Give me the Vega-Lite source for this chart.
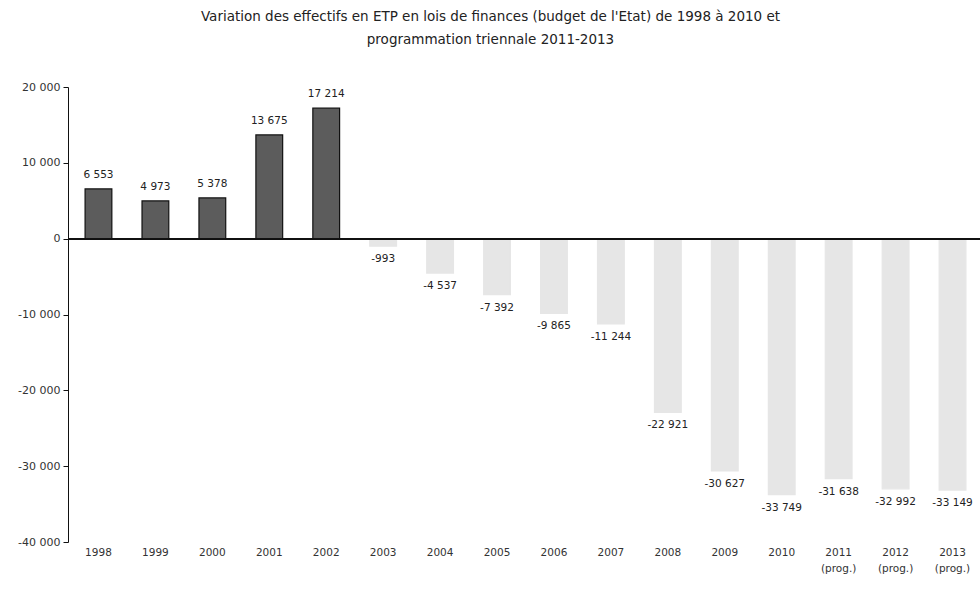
{
  "$schema": "https://vega.github.io/schema/vega-lite/v6.json",
  "autosize": "none",
  "width": 915,
  "height": 455,
  "padding": {"left": 68, "top": 87, "right": 0, "bottom": 60},
  "background": "white",
  "title": {
    "text": ["Variation des effectifs en ETP en lois de finances (budget de l'Etat) de 1998 à 2010 et", "programmation triennale 2011-2013"],
    "font": "DejaVu Sans",
    "fontSize": 13.5,
    "fontWeight": "normal",
    "color": "#222",
    "lineHeight": 23,
    "offset": 35,
    "dx": -35,
    "anchor": "middle"
  },
  "config": {
    "view": {"stroke": null},
    "axis": {"labelFont": "DejaVu Sans", "labelFontSize": 11, "labelColor": "#333", "grid": false}
  },
  "data": {
    "values": [
      {"year": "1998", "value": 6553, "group": "real"},
      {"year": "1999", "value": 4973, "group": "real"},
      {"year": "2000", "value": 5378, "group": "real"},
      {"year": "2001", "value": 13675, "group": "real"},
      {"year": "2002", "value": 17214, "group": "real"},
      {"year": "2003", "value": -993, "group": "neg"},
      {"year": "2004", "value": -4537, "group": "neg"},
      {"year": "2005", "value": -7392, "group": "neg"},
      {"year": "2006", "value": -9865, "group": "neg"},
      {"year": "2007", "value": -11244, "group": "neg"},
      {"year": "2008", "value": -22921, "group": "neg"},
      {"year": "2009", "value": -30627, "group": "neg"},
      {"year": "2010", "value": -33749, "group": "neg"},
      {"year": "2011", "value": -31638, "group": "neg"},
      {"year": "2012", "value": -32992, "group": "neg"},
      {"year": "2013", "value": -33149, "group": "neg"}
    ]
  },
  "transform": [
    {"calculate": "(datum.value < 0 ? '-' : '') + replace(format(abs(datum.value), ',d'), ',', ' ')", "as": "label"}
  ],
  "encoding": {
    "x": {
      "field": "year", "type": "nominal", "sort": null,
      "scale": {"paddingInner": 0.53, "paddingOuter": 0.3},
      "axis": {
        "title": null, "orient": "bottom", "domain": false, "ticks": false, "labelAngle": 0,
        "labelPadding": 5, "labelLineHeight": 16, "labelFontSize": 10.5,
        "labelExpr": "datum.value >= '2011' ? [datum.value, '(prog.)'] : datum.value"
      }
    }
  },
  "layer": [
    {
      "mark": {"type": "bar", "strokeWidth": 1.2},
      "encoding": {
        "y": {
          "field": "value", "type": "quantitative",
          "scale": {"domain": [-40000, 20000], "nice": false},
          "axis": {
            "title": null, "values": [-40000, -30000, -20000, -10000, 0, 10000, 20000],
            "labelOverlap": false,
            "domainColor": "#111", "tickColor": "#111", "tickSize": 5, "labelPadding": 3,
            "labelExpr": "(datum.value < 0 ? '-' : '') + replace(format(abs(datum.value), ',d'), ',', ' ')"
          }
        },
        "color": {
          "field": "group", "type": "nominal", "legend": null,
          "scale": {"domain": ["real", "neg"], "range": ["#5c5c5c", "#e6e6e6"]}
        },
        "stroke": {
          "field": "group", "type": "nominal", "legend": null,
          "scale": {"domain": ["real", "neg"], "range": ["#111111", "#e6e6e6"]}
        }
      }
    },
    {
      "mark": {"type": "rule", "color": "#111", "strokeWidth": 1.2},
      "encoding": {"y": {"datum": 0, "type": "quantitative"}, "x": {"value": 0}, "x2": {"value": 915}}
    },
    {
      "transform": [{"filter": "datum.value > 0"}],
      "mark": {"type": "text", "font": "DejaVu Sans", "fontSize": 10.5, "color": "#222", "baseline": "bottom", "dy": -9},
      "encoding": {
        "y": {"field": "value", "type": "quantitative"},
        "text": {"field": "label"}
      }
    },
    {
      "transform": [{"filter": "datum.value < 0"}],
      "mark": {"type": "text", "font": "DejaVu Sans", "fontSize": 10.5, "color": "#222", "baseline": "top", "dy": 8},
      "encoding": {
        "y": {"field": "value", "type": "quantitative"},
        "text": {"field": "label"}
      }
    }
  ]
}
